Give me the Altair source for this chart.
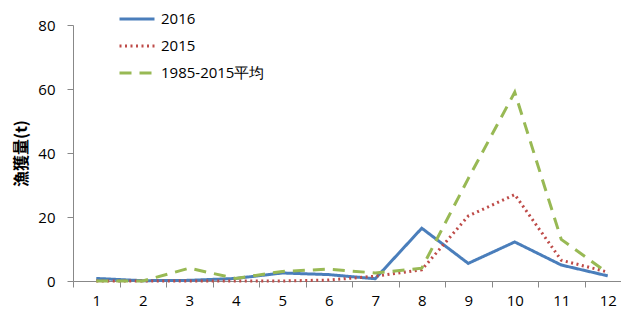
import altair as alt
import pandas as pd

months = list(range(1, 13))
s2016 = [0.8, 0.1, 0.2, 0.8, 2.5, 2.0, 0.7, 16.5, 5.5, 12.2, 5.0, 1.6]
s2015 = [0.0, 0.0, 0.0, 0.0, 0.0, 0.3, 1.5, 3.5, 20.3, 27.0, 6.5, 2.8]
avg = [0.0, 0.0, 4.0, 0.8, 3.0, 3.7, 2.5, 4.0, 32.0, 59.0, 13.0, 2.5]
series_names = ["2016", "2015", "1985-2015平均"]

rows = []
for name, vals in zip(series_names, [s2016, s2015, avg]):
    for m, v in zip(months, vals):
        rows.append({"month": m, "value": v, "series": name})
df = pd.DataFrame(rows)

font = "Open Sans"
chart = alt.Chart(df).mark_line(strokeWidth=3).encode(
    x=alt.X("month:O", bandPosition=0.5,
            scale=alt.Scale(type="band", paddingInner=0, paddingOuter=0),
            axis=alt.Axis(title=None, labelAngle=0, tickBand="extent", domainColor="#888888",
                          tickColor="#888888", tickSize=6, labelPadding=6, labelFontSize=15,
                          labelFont=font, labelColor="#000000", grid=False)),
    y=alt.Y("value:Q", scale=alt.Scale(domain=[0, 80]),
            axis=alt.Axis(title="漁獲量(t)", values=[0, 20, 40, 60, 80], domainColor="#888888",
                          tickColor="#888888", tickSize=6, labelPadding=12, labelFontSize=15,
                          labelFont=font, labelColor="#000000", grid=False,
                          titleFont="Noto Sans CJK JP", titleFontSize=16, titleFontWeight="bold",
                          titleColor="#000000", titlePadding=8)),
    color=alt.Color("series:N", sort=series_names,
                    scale=alt.Scale(domain=series_names, range=["#4a7ebb", "#be4b48", "#98b954"]),
                    legend=alt.Legend(title=None, orient="none", legendX=45, legendY=-25,
                                      symbolType="stroke", symbolSize=1225, symbolStrokeWidth=3,
                                      labelFontSize=15, labelFont=font, labelColor="#000000",
                                      rowPadding=-8, labelOffset=5)),
    strokeDash=alt.StrokeDash("series:N", sort=series_names,
                              scale=alt.Scale(domain=series_names, range=[[1, 0], [2, 3.5], [12, 8]]),
                              legend=None),
).properties(
    width=558, height=256,
    autosize=alt.AutoSizeParams(type="none"),
    padding={"left": 65, "top": 17, "right": -10, "bottom": 29},
).configure_view(stroke=None)

chart.save("out.html", embed_options={"renderer": "svg", "actions": False})
